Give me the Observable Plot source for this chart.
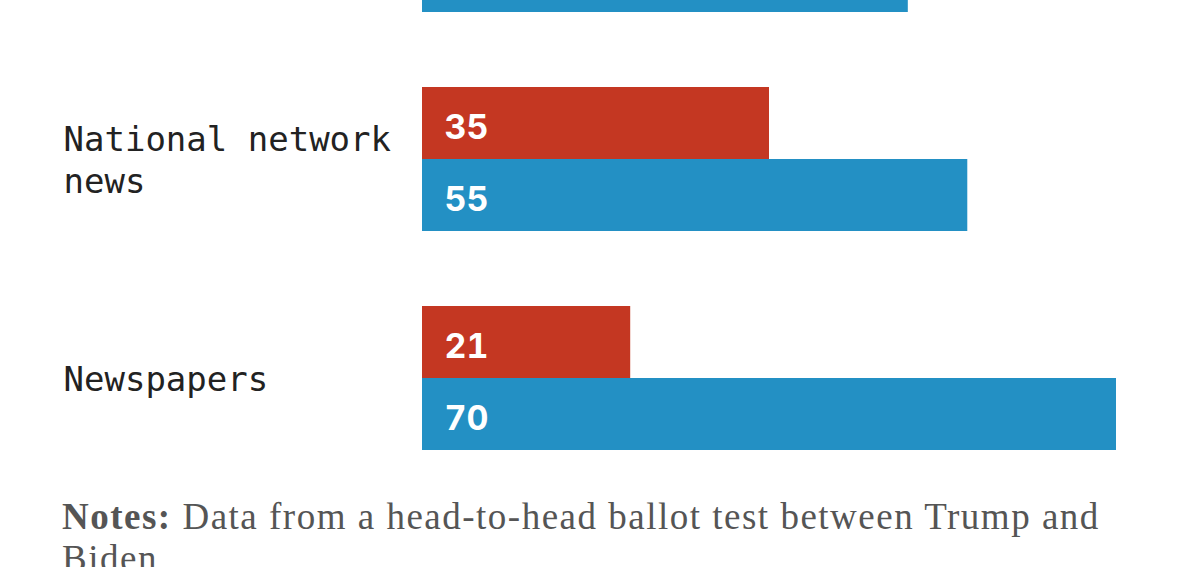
<!DOCTYPE html>
<html>
<head>
<meta charset="utf-8">
<script src="https://cdn.jsdelivr.net/npm/d3@7"></script>
<script src="https://cdn.jsdelivr.net/npm/@observablehq/plot@0.6"></script>
<style>
  html, body { margin: 0; padding: 0; background: #fff; overflow: hidden; }
  #chart { margin-top: -170.5px; height: 657px; }
  #chart svg { display: block; }
  #notes {
    margin: 9px 0 0 62px; width: 1060px;
    font-family: "Liberation Serif", serif; font-size: 37px; line-height: 42px;
    letter-spacing: 1.5px; color: #555;
  }
  #notes b { color: #555; }
</style>
</head>
<body>
<div id="chart"></div>
<div id="notes"><b>Notes:</b> Data from a head-to-head ballot test between Trump and Biden</div>
<script>
// Categories (the first one is mostly scrolled out of view in the reference)
const categories = ["Local TV news", "National network news", "Newspapers"];
const categoryLabels = ["Local TV news", "National network\nnews", "Newspapers"];
const parties = ["Trump", "Biden"];
const trumpValues = [null, 35, 21];
const bidenValues = [49, 55, 70];
const partyColors = ["#c43722", "#2390c4"];

const rows = [];
categories.forEach((c, i) => {
  if (trumpValues[i] != null) rows.push({category: c, party: "Trump", value: trumpValues[i]});
  if (bidenValues[i] != null) rows.push({category: c, party: "Biden", value: bidenValues[i]});
});
const labelRows = categories.map((c, i) => ({category: c, label: categoryLabels[i]}));

const step = 219, gap = 75;
const chart = Plot.plot({
  width: 1179,
  height: 657,
  marginLeft: 422,
  marginRight: 63,
  marginTop: 0,
  marginBottom: 0,
  x: {domain: [0, 70], axis: null},
  y: {domain: parties, padding: 0, axis: null},
  fy: {domain: categories, paddingInner: gap / step, paddingOuter: gap / step / 2, axis: null},
  color: {domain: parties, range: partyColors},
  marks: [
    Plot.barX(rows, {fy: "category", y: "party", x: "value", fill: "party"}),
    Plot.text(rows, {
      fy: "category", y: "party", x: () => 0, text: "value",
      dx: 22, dy: 5, textAnchor: "start", fill: "white",
      fontFamily: "Inter", fontWeight: 700, fontSize: 34, letterSpacing: -1
    }),
    Plot.text(labelRows, {
      fy: "category", text: "label", frameAnchor: "left",
      dx: -359, dy: -1, textAnchor: "start", lineHeight: 1.24,
      fontFamily: "DejaVu Sans Mono", fontSize: 34, fill: "#222"
    })
  ]
});
document.getElementById("chart").appendChild(chart);
</script>
</body>
</html>
